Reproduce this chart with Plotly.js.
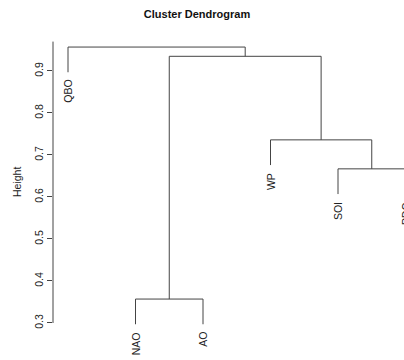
<!DOCTYPE html>
<html>
<head>
<meta charset="utf-8">
<script src="https://cdn.plot.ly/plotly-3.0.1.min.js"></script>
<style>html,body{margin:0;padding:0;background:#fff;overflow:hidden;width:404px;height:360px;}#chart{width:412px;height:360px;}</style>
</head>
<body>
<div id="chart"></div>
<script>
// Leaf labels in dendrogram order (left to right)
var leafLabels = ["QBO", "NAO", "AO", "WP", "SOI", "PDO"];
// Merge steps (R hclust style): negative = leaf (1-based index into leafLabels), positive = earlier merge
var mergeLeft  = [-2, -5, -4, 1, -1];
var mergeRight = [-3, -6,  2, 3,  4];
var mergeHeight = [0.357, 0.667, 0.736, 0.935, 0.957];
var yTicks = [0.3, 0.4, 0.5, 0.6, 0.7, 0.8, 0.9];
var hang = 0.06;

var xs = [], ys = [];
var leafX = [], leafY = [];
var nodeX = [], nodeY = [];
function child(c, parentH) {
  if (c < 0) {
    var i = -c;
    var bottom = parentH - hang;
    leafX.push(i); leafY.push(bottom);
    return {x: i, y: bottom};
  }
  return {x: nodeX[c - 1], y: nodeY[c - 1]};
}
for (var k = 0; k < mergeHeight.length; k++) {
  var h = mergeHeight[k];
  var a = child(mergeLeft[k], h);
  var b = child(mergeRight[k], h);
  xs.push(a.x, a.x, b.x, b.x, null);
  ys.push(a.y, h, h, b.y, null);
  nodeX.push((a.x + b.x) / 2);
  nodeY.push(h);
}

var FONT = 'Liberation Sans, Arial, sans-serif';
var annotations = leafX.map(function (x, i) {
  return {
    x: x, y: leafY[i], xref: 'x', yref: 'y',
    text: leafLabels[x - 1], textangle: -90,
    showarrow: false, xanchor: 'center', yanchor: 'top', yshift: -6,
    font: {family: FONT, size: 10.5, color: '#222'}
  };
});
annotations.push({
  xref: 'paper', yref: 'paper', x: 0, y: 0.5, xshift: -36, yshift: 3,
  text: 'Height', textangle: -90, showarrow: false,
  xanchor: 'center', yanchor: 'middle',
  font: {family: FONT, size: 10.5, color: '#222'}
});

var trace = {
  x: xs, y: ys, mode: 'lines', type: 'scatter',
  line: {color: '#444', width: 1}, hoverinfo: 'skip', cliponaxis: false
};

var layout = {
  width: 412, height: 360,
  margin: {l: 53, r: 0, t: 40, b: 30},
  paper_bgcolor: '#fff', plot_bgcolor: '#fff',
  showlegend: false,
  title: {
    text: '<b>Cluster Dendrogram</b>',
    x: 197 / 412, xref: 'container', xanchor: 'center',
    y: 1 - 14 / 360, yref: 'container', yanchor: 'middle',
    font: {family: FONT, size: 11, color: '#111'}
  },
  xaxis: {
    range: [0.7778, 6.0963], visible: false, fixedrange: true
  },
  yaxis: {
    range: [0.2833, 0.9738], tickvals: yTicks, ticktext: yTicks.map(function (v) { return v.toFixed(1); }),
    ticks: 'outside', ticklen: 5, tickcolor: '#444', tickwidth: 1, tickangle: -90,
    showgrid: false, zeroline: false, showline: false,
    tickfont: {family: FONT, size: 10.5, color: '#222'}
  },
  shapes: [{
    type: 'line', xref: 'paper', yref: 'y', x0: 0, x1: 0, y0: 0.3, y1: 0.97,
    line: {color: '#444', width: 1}
  }],
  annotations: annotations
};

Plotly.newPlot('chart', [trace], layout, {displayModeBar: false, staticPlot: true});
</script>
</body>
</html>
